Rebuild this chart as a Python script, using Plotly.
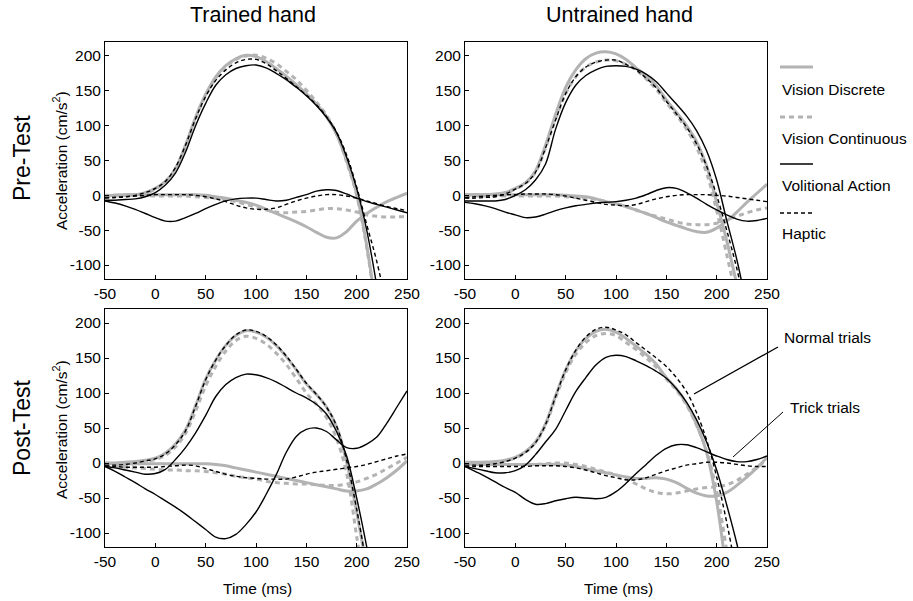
import plotly.graph_objects as go

W, H = 913, 601

# ---------------- data ----------------
time_ms = list(range(-50, 251, 10))
N = None

# Pre-Test, Trained hand
pre_tr_vd_normal = [-1,0,0,1,4,10,20,38,72,112,145,170,186,196,201,199,192,182,171,159,146,131,113,88,50,2,-72,-170,N,N,N]
pre_tr_vc_normal = [-1,0,0,1,3,9,19,38,71,110,143,168,185,195,200,201,197,189,178,166,151,134,115,88,48,0,-75,-175,N,N,N]
pre_tr_va_normal = [-7,-7,-6,-5,-2,4,15,32,62,100,132,158,173,182,186,187,183,175,166,155,143,129,112,90,55,10,-50,-130,N,N,N]
pre_tr_ha_normal = [-3,-3,-2,0,4,10,20,40,72,110,142,165,180,190,195,195,189,179,168,156,144,130,113,91,58,12,-42,-95,-160,N,N]
pre_tr_vd_trick = [0,0,1,1,1,1,1,1,1,1,0,-2,-4,-7,-10,-14,-20,-26,-32,-38,-45,-53,-60,-61,-52,-37,-26,-17,-9,-3,3]
pre_tr_vc_trick = [-1,-1,0,0,0,-1,-1,-1,-1,-2,-3,-4,-6,-9,-13,-17,-21,-24,-25,-24,-23,-21,-19,-19,-21,-24,-28,-30,-31,-31,-30]
pre_tr_va_trick = [-8,-11,-15,-20,-26,-32,-37,-37,-32,-26,-19,-13,-8,-5,-4,-4,-6,-8,-7,-3,1,6,8,7,2,-4,-9,-13,-17,-21,-25]
pre_tr_ha_trick = [-4,-3,-2,-1,0,1,1,1,1,0,-2,-5,-9,-14,-18,-20,-20,-18,-13,-8,-4,-1,1,1,-1,-4,-8,-12,-16,-19,-22]

# Pre-Test, Untrained hand
pre_un_vd_normal = [1,1,1,2,4,10,18,35,72,116,155,180,196,204,206,203,195,183,171,157,137,119,100,77,42,-10,-65,-128,N,N,N]
pre_un_vc_normal = [-1,0,0,1,3,9,17,33,68,110,146,170,184,191,194,193,188,180,167,152,133,115,95,69,32,-22,-85,-150,N,N,N]
pre_un_va_normal = [-8,-8,-8,-8,-6,0,8,22,45,95,133,158,172,180,185,186,185,181,174,163,147,131,114,93,64,22,-36,-92,-160,N,N]
pre_un_ha_normal = [-4,-4,-3,-2,2,9,17,33,68,108,146,170,184,191,194,194,188,180,168,154,135,117,98,74,42,0,-50,-105,-170,N,N]
pre_un_vd_trick = [1,1,1,1,1,1,1,1,1,1,0,-1,-2,-5,-9,-12,-16,-21,-26,-32,-38,-43,-48,-52,-53,-47,-37,-24,-10,3,16]
pre_un_vc_trick = [-1,-1,-1,-1,-1,-1,-1,-1,-1,-1,-2,-3,-4,-6,-9,-12,-16,-21,-26,-30,-34,-38,-41,-42,-42,-40,-35,-30,-25,-21,-18]
pre_un_va_trick = [-10,-12,-15,-19,-24,-28,-32,-31,-27,-22,-18,-15,-13,-11,-10,-9,-7,-4,1,7,11,10,4,-4,-13,-21,-28,-34,-37,-36,-33]
pre_un_ha_trick = [-3,-2,-1,0,1,1,2,2,2,1,-1,-4,-7,-10,-13,-14,-15,-13,-9,-5,-2,0,1,1,1,0,-1,-3,-5,-7,-9]

# Post-Test, Trained hand
post_tr_vd_normal = [0,0,1,2,4,7,14,27,47,82,120,147,168,182,189,187,180,168,152,133,113,98,80,52,2,-70,-150,N,N,N,N]
post_tr_vc_normal = [-3,-3,-3,-1,2,5,11,23,42,74,110,138,160,175,181,178,170,157,141,121,100,84,65,35,-15,-105,-200,N,N,N,N]
post_tr_va_normal = [-5,-7,-10,-13,-16,-15,-9,5,22,43,68,95,112,122,127,126,122,116,108,100,93,84,70,45,10,-50,-120,-200,N,N,N]
post_tr_ha_normal = [-3,-3,-2,0,3,6,13,26,46,81,119,147,168,183,190,188,181,169,153,134,114,98,80,53,4,-66,-148,N,N,N,N]
post_tr_vd_trick = [0,-1,-1,-1,-1,-1,-1,-1,-1,-1,-1,-2,-4,-7,-10,-13,-16,-19,-22,-25,-28,-31,-34,-37,-40,-40,-37,-30,-21,-10,3]
post_tr_vc_trick = [-3,-5,-6,-7,-8,-9,-10,-10,-11,-11,-12,-14,-16,-19,-21,-23,-26,-28,-29,-30,-30,-31,-32,-32,-30,-27,-22,-16,-8,0,8]
post_tr_va_trick = [-5,-12,-20,-28,-37,-45,-54,-63,-73,-84,-95,-106,-108,-102,-88,-70,-45,-17,15,38,48,50,45,33,22,21,27,37,57,80,103]
post_tr_ha_trick = [-4,-5,-6,-6,-6,-6,-5,-4,-3,-4,-8,-12,-16,-19,-21,-22,-23,-23,-23,-20,-16,-13,-11,-9,-7,-5,-2,2,6,10,13]

# Post-Test, Untrained hand
post_un_vd_normal = [1,1,1,2,4,8,16,30,56,96,133,160,178,188,191,187,178,167,155,141,122,106,85,55,15,-55,-160,N,N,N,N]
post_un_vc_normal = [0,0,1,1,3,7,15,29,54,93,129,155,172,182,185,182,172,162,150,137,120,104,83,54,17,-40,-125,-210,N,N,N]
post_un_va_normal = [-5,-8,-11,-14,-14,-11,-3,12,30,48,75,102,122,140,151,154,152,146,139,131,121,106,87,62,30,-10,-60,-115,-180,N,N]
post_un_ha_normal = [-3,-3,-3,-1,2,7,15,29,55,95,133,161,180,191,194,190,183,172,161,150,138,122,102,72,33,-20,-85,-160,N,N,N]
post_un_vd_trick = [-1,-2,-2,-2,-2,-2,-2,-2,-2,-2,-3,-5,-8,-11,-14,-17,-20,-22,-22,-21,-23,-28,-36,-43,-47,-47,-42,-32,-20,-7,8]
post_un_vc_trick = [-1,-1,-1,-1,-2,-2,-2,-2,-1,0,0,-2,-5,-9,-13,-17,-23,-30,-37,-42,-44,-43,-40,-37,-35,-34,-31,-25,-16,-6,5]
post_un_va_trick = [-5,-12,-19,-27,-35,-42,-52,-59,-58,-54,-51,-49,-50,-51,-49,-41,-29,-15,-2,11,21,26,26,22,16,10,5,2,2,5,10]
post_un_ha_trick = [-5,-5,-5,-5,-5,-5,-5,-4,-4,-4,-5,-7,-10,-14,-18,-21,-24,-24,-21,-16,-11,-7,-3,-1,1,1,0,-2,-4,-5,-5]

condition_names = ["Vision Discrete", "Vision Continuous", "Volitional Action", "Haptic"]
column_titles = ["Trained hand", "Untrained hand"]
row_titles = ["Pre-Test", "Post-Test"]
x_ticks = [-50, 0, 50, 100, 150, 200, 250]
x_ticktext = ["-50", "0", "50", "100", "150", "200", "250"]
y_ticks = [-100, -50, 0, 50, 100, 150, 200]
y_ticktext = ["-100", "-50", "0", "50", "100", "150", "200"]
y_title = "Acceleration (cm/s<sup>2</sup>)"
x_title = "Time (ms)"

# ---------------- styles ----------------
GRAY = "#b3b3b3"
styles = {
    "Vision Discrete": dict(color=GRAY, width=3, dash="solid"),
    "Vision Continuous": dict(color=GRAY, width=3, dash="5px,4px"),
    "Volitional Action": dict(color="black", width=1.4, dash="solid"),
    "Haptic": dict(color="black", width=1.4, dash="4px,3px"),
}
FONT = "Arial, 'Liberation Sans', sans-serif"

panels = [
    ("", [pre_tr_vd_normal, pre_tr_vc_normal, pre_tr_va_normal, pre_tr_ha_normal],
         [pre_tr_vd_trick, pre_tr_vc_trick, pre_tr_va_trick, pre_tr_ha_trick]),
    ("2", [pre_un_vd_normal, pre_un_vc_normal, pre_un_va_normal, pre_un_ha_normal],
          [pre_un_vd_trick, pre_un_vc_trick, pre_un_va_trick, pre_un_ha_trick]),
    ("3", [post_tr_vd_normal, post_tr_vc_normal, post_tr_va_normal, post_tr_ha_normal],
          [post_tr_vd_trick, post_tr_vc_trick, post_tr_va_trick, post_tr_ha_trick]),
    ("4", [post_un_vd_normal, post_un_vc_normal, post_un_va_normal, post_un_ha_normal],
          [post_un_vd_trick, post_un_vc_trick, post_un_va_trick, post_un_ha_trick]),
]

fig = go.Figure()
for suffix, normals, tricks in panels:
    for name, yn, yt in zip(condition_names, normals, tricks):
        for yv in (yt, yn):
            fig.add_trace(go.Scatter(
                x=time_ms, y=yv, mode="lines", name=name, showlegend=False,
                line=dict(shape="spline", smoothing=1.0, **styles[name]),
                xaxis="x" + suffix, yaxis="y" + suffix, connectgaps=False,
                hoverinfo="skip"))

def px_x(p):
    return p / W

def px_y(p):
    return 1 - p / H

xd_left = [px_x(105), px_x(407)]
xd_right = [px_x(465), px_x(767)]
yd_top = [px_y(279), px_y(42)]
yd_bot = [px_y(547), px_y(309)]

ax_common = dict(showline=True, mirror=True, linecolor="black", linewidth=1,
                 ticks="inside", ticklen=4, tickcolor="black", showgrid=False,
                 zeroline=False, automargin=False, tickmode="array",
                 tickfont=dict(family=FONT, size=15.5, color="black"))

layout = dict(template="none", width=W, height=H, autosize=False,
              margin=dict(l=0, r=0, t=0, b=0, pad=0),
              plot_bgcolor="white", paper_bgcolor="white", showlegend=False,
              font=dict(family=FONT, color="black"))
doms = {"": (xd_left, yd_top), "2": (xd_right, yd_top),
        "3": (xd_left, yd_bot), "4": (xd_right, yd_bot)}
for s, (xd, yd) in doms.items():
    layout["xaxis" + s] = dict(domain=xd, range=[-50, 250], tickvals=x_ticks,
                               ticktext=x_ticktext, anchor="y" + s, **ax_common)
    layout["yaxis" + s] = dict(domain=yd, range=[-120, 220], tickvals=y_ticks,
                               ticktext=y_ticktext, anchor="x" + s, **ax_common)
fig.update_layout(**layout)

ann = []
def text(t, x, y, size, angle=0, xanchor="center"):
    ann.append(dict(text=t, x=px_x(x), y=px_y(y), xref="paper", yref="paper",
                    showarrow=False, textangle=angle, xanchor=xanchor, yanchor="middle",
                    font=dict(family=FONT, size=size, color="black")))

text(column_titles[0], 253, 15, 21.5)
text(column_titles[1], 619, 15, 21.5)
text(row_titles[0], 22, 158, 23, -90)
text(row_titles[1], 22, 428, 23, -90)
text(y_title, 60, 161, 15.5, -90)
text(y_title, 60, 430, 15.5, -90)
text(x_title, 257, 588, 15.5)
text(x_title, 618, 588, 15.5)

shapes = []
leg_y_line = [67, 117, 164, 213]
leg_y_text = [90, 138, 186, 233]
for name, yl, yt in zip(condition_names, leg_y_line, leg_y_text):
    st = styles[name]
    shapes.append(dict(type="line", xref="paper", yref="paper",
                       x0=px_x(780), x1=px_x(813), y0=px_y(yl), y1=px_y(yl),
                       line=dict(color=st["color"], width=st["width"], dash=st["dash"])))
    text(name, 780, yt, 15.5, xanchor="left")

# trial-type callouts
text("Normal trials", 782, 338, 15.5, xanchor="left")
text("Trick trials", 788, 407, 15.5, xanchor="left")
shapes.append(dict(type="line", xref="paper", yref="paper",
                   x0=px_x(778), y0=px_y(347), x1=px_x(694), y1=px_y(394),
                   line=dict(color="black", width=1.3)))
shapes.append(dict(type="line", xref="paper", yref="paper",
                   x0=px_x(783), y0=px_y(412), x1=px_x(733), y1=px_y(457),
                   line=dict(color="black", width=1)))

fig.update_layout(annotations=ann, shapes=shapes)
fig.write_html("out.html", config={"displayModeBar": False},
               post_script="document.body.style.margin='0';document.body.style.overflow='hidden';")
